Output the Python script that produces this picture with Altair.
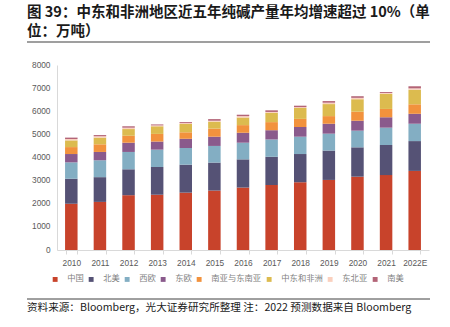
import altair as alt
import pandas as pd

years = ["2010", "2011", "2012", "2013", "2014", "2015", "2016", "2017", "2018", "2019", "2020", "2021", "2022E"]
series = ["中国", "北美", "西欧", "东欧", "南亚与东南亚", "中东和非洲", "东北亚", "南美"]
colors = ["#C8432B", "#555275", "#83AEC3", "#8A5A8C", "#F2923D", "#DCBB4F", "#FAD0BE", "#B36477"]

china = [2000, 2080, 2370, 2390, 2480, 2570, 2700, 2810, 2930, 3030, 3170, 3240, 3420]
north_america = [1080, 1070, 1120, 1200, 1210, 1210, 1220, 1220, 1220, 1270, 1270, 1300, 1290]
west_europe = [710, 730, 750, 750, 720, 720, 720, 750, 750, 730, 720, 750, 750]
east_europe = [360, 360, 400, 350, 400, 400, 430, 400, 420, 430, 430, 450, 430]
south_asia = [300, 330, 300, 330, 280, 350, 330, 350, 350, 330, 390, 360, 410]
middle_east_africa = [290, 290, 290, 330, 360, 300, 330, 400, 470, 520, 540, 650, 630]
northeast_asia = [60, 60, 60, 40, 40, 40, 60, 40, 40, 60, 60, 40, 60]
south_america = [60, 50, 60, 40, 40, 70, 60, 70, 60, 70, 70, 40, 90]

all_vals = [china, north_america, west_europe, east_europe, south_asia,
            middle_east_africa, northeast_asia, south_america]

rows = []
for si, (name, vals) in enumerate(zip(series, all_vals)):
    for y, v in zip(years, vals):
        rows.append({"year": y, "region": name, "value": v, "idx": si})
df = pd.DataFrame(rows)

CJK = "Noto Sans CJK SC"
LAT = "Liberation Sans"

bars = alt.Chart(df).mark_bar(size=12.5).encode(
    x=alt.X("year:N", sort=years, title=None,
            scale=alt.Scale(paddingInner=0.6, paddingOuter=0.3),
            axis=alt.Axis(labelAngle=0, labelFont=LAT, labelFontSize=8.3, labelColor="#595959",
                          domainColor="#D9D9D9", tickColor="#D9D9D9", tickBand="extent",
                          tickSize=4, labelPadding=4)),
    y=alt.Y("value:Q", stack="zero", title=None,
            scale=alt.Scale(domain=[0, 8000], nice=False),
            axis=alt.Axis(values=list(range(0, 8001, 1000)), format="d", grid=False, ticks=False,
                          labelFont=LAT, labelFontSize=8.3, labelColor="#595959",
                          domainColor="#D9D9D9", labelPadding=7)),
    color=alt.Color("region:N", sort=series,
                    scale=alt.Scale(domain=series, range=colors),
                    legend=alt.Legend(title=None, orient="none", legendX=-6, legendY=210,
                                      direction="horizontal", columns=8,
                                      symbolType="square", symbolSize=24, symbolStrokeWidth=0,
                                      labelFont=CJK, labelFontSize=8.3, labelColor="#7F7F7F",
                                      labelOffset=8, columnPadding=3)),
    order=alt.Order("idx:Q", sort="ascending"),
)

one = alt.Data(values=[{"a": 1}])

title1 = alt.Chart(one).mark_text(align="left", baseline="middle", font=CJK, fontSize=14.5,
                                  fontWeight="bold", color="#1A1A1A").encode(
    x=alt.value(-30), y=alt.value(-52),
    text=alt.value("图 39：中东和非洲地区近五年纯碱产量年均增速超过 10%（单"))
title2 = alt.Chart(one).mark_text(align="left", baseline="middle", font=CJK, fontSize=14.5,
                                  fontWeight="bold", color="#1A1A1A").encode(
    x=alt.value(-30), y=alt.value(-33), text=alt.value("位：万吨）"))
rule1 = alt.Chart(one).mark_rule(color="#404040", strokeWidth=1.2).encode(
    x=alt.value(-30), x2=alt.value(373), y=alt.value(-23))
rule2 = alt.Chart(one).mark_rule(color="#404040", strokeWidth=1).encode(
    x=alt.value(-30), x2=alt.value(373), y=alt.value(234))
source = alt.Chart(one).mark_text(align="left", baseline="middle", font=CJK, fontSize=10.6,
                                  color="#1A1A1A").encode(
    x=alt.value(-30), y=alt.value(242.5),
    text=alt.value("资料来源：Bloomberg，光大证券研究所整理  注：2022 预测数据来自 Bloomberg"))

chart = alt.layer(bars, title1, title2, rule1, rule2, source).properties(
    width=372, height=185,
    autosize=alt.AutoSizeParams(type="none"),
    padding={"left": 57, "top": 65, "right": 21, "bottom": 77},
    background="white",
).configure_view(stroke=None)

chart.save("out.html", embed_options={"renderer": "svg", "actions": False})
